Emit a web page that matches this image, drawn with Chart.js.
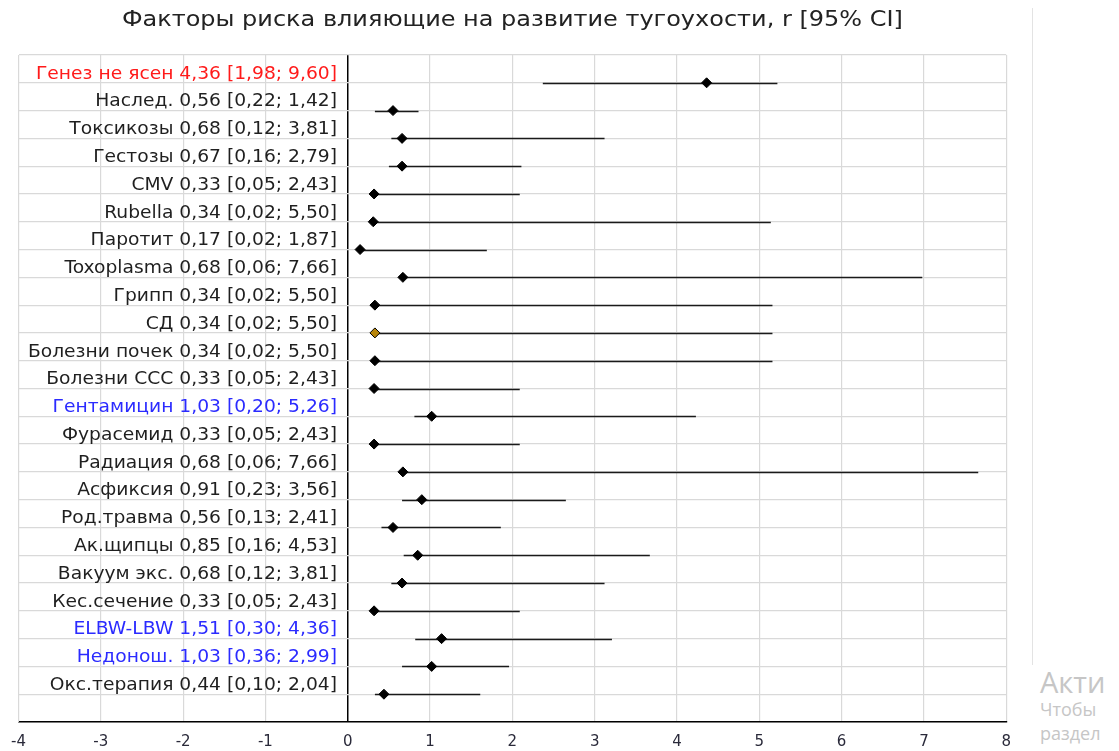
<!DOCTYPE html>
<html>
<head>
<meta charset="utf-8">
<script src="https://cdn.jsdelivr.net/npm/chart.js@4.4.0/dist/chart.umd.min.js"></script>
<style>
  body { margin: 0; background: #fff; overflow: hidden; }
  #wrap { position: absolute; left: 0; top: 0; width: 1022px; height: 751px; }
  #sep { position: absolute; left: 1032px; top: 8px; width: 1px; height: 657px; background: #e3e3e3; }
  .wm { position: absolute; left: 1040px; color: #c6c6c6; font-family: "Open Sans", sans-serif; white-space: nowrap; line-height: 1; }
</style>
</head>
<body>
<div id="wrap"><canvas id="chart" width="1022" height="751"></canvas></div>
<div id="sep"></div>
<div class="wm" style="top:667px;font-size:29px;">Акти</div>
<div class="wm" style="top:700px;font-size:18px;">Чтобы</div>
<div class="wm" style="top:724px;font-size:18px;">раздел</div>
<script>
// Factor names, top to bottom
const categories = ['Генез не ясен', 'Наслед.', 'Токсикозы', 'Гестозы', 'CMV', 'Rubella', 'Паротит',
    'Toxoplasma', 'Грипп', 'СД', 'Болезни почек', 'Болезни ССС', 'Гентамицин', 'Фурасемид',
    'Радиация', 'Асфиксия', 'Род.травма', 'Ак.щипцы', 'Вакуум экс.', 'Кес.сечение',
    'ELBW-LBW', 'Недонош.', 'Окс.терапия'];

// r [95% CI] as written in the labels
const ciText = ['4,36 [1,98; 9,60]', '0,56 [0,22; 1,42]', '0,68 [0,12; 3,81]', '0,67 [0,16; 2,79]',
    '0,33 [0,05; 2,43]', '0,34 [0,02; 5,50]', '0,17 [0,02; 1,87]', '0,68 [0,06; 7,66]',
    '0,34 [0,02; 5,50]', '0,34 [0,02; 5,50]', '0,34 [0,02; 5,50]', '0,33 [0,05; 2,43]',
    '1,03 [0,20; 5,26]', '0,33 [0,05; 2,43]', '0,68 [0,06; 7,66]', '0,91 [0,23; 3,56]',
    '0,56 [0,13; 2,41]', '0,85 [0,16; 4,53]', '0,68 [0,12; 3,81]', '0,33 [0,05; 2,43]',
    '1,51 [0,30; 4,36]', '1,03 [0,36; 2,99]', '0,44 [0,10; 2,04]'];

// Plotted marks
const estimate = [4.36, 0.55, 0.66, 0.66, 0.32, 0.31, 0.15, 0.67, 0.33, 0.33, 0.33, 0.32,
    1.02, 0.32, 0.67, 0.90, 0.55, 0.85, 0.66, 0.32, 1.14, 1.02, 0.44];
const lower = [2.37, 0.33, 0.53, 0.50, 0.30, 0.30, 0.13, 0.65, 0.31, 0.31, 0.31, 0.30,
    0.81, 0.30, 0.65, 0.66, 0.41, 0.68, 0.53, 0.30, 0.82, 0.66, 0.33];
const upper = [5.22, 0.86, 3.12, 2.11, 2.09, 5.14, 1.69, 6.98, 5.16, 5.16, 5.16, 2.09,
    4.23, 2.09, 7.66, 2.65, 1.86, 3.67, 3.12, 2.09, 3.21, 1.96, 1.61];

const xTicks = [-4, -3, -2, -1, 0, 1, 2, 3, 4, 5, 6, 7, 8];
const chartTitle = 'Факторы риска влияющие на развитие тугоухости, r [95% CI]';

// Label colours
const redLabels = ['Генез не ясен'];
const blueLabels = ['Гентамицин', 'ELBW-LBW', 'Недонош.'];
const oddMarker = ['СД'];

const rowOf = (i) => categories.length - i;
const points = estimate.map((v, i) => ({ x: v, y: rowOf(i) }));

// the original text is a bit stretched sideways
function stretchedText(ctx, text, x, y, sx) {
    ctx.save();
    ctx.translate(x, y);
    ctx.scale(sx, 1);
    ctx.fillText(text, 0, 0);
    ctx.restore();
}

// Horizontal CI lines
const errorBars = {
    id: 'errorBars',
    beforeDatasetsDraw(chart) {
        const { ctx, scales: { x, y } } = chart;
        ctx.save();
        ctx.strokeStyle = '#1a1a1a';
        ctx.lineWidth = 1.5;
        lower.forEach((lo, i) => {
            const py = Math.round(y.getPixelForValue(rowOf(i))) + 0.5;
            ctx.beginPath();
            ctx.moveTo(x.getPixelForValue(lo), py);
            ctx.lineTo(x.getPixelForValue(upper[i]), py);
            ctx.stroke();
        });
        ctx.restore();
    }
};

// Text labels in the left (negative) part of the plot + title
const rowLabels = {
    id: 'rowLabels',
    afterDatasetsDraw(chart) {
        const { ctx, chartArea, scales: { x, y } } = chart;
        ctx.save();
        ctx.font = '17px "DejaVu Sans"';
        ctx.textAlign = 'right';
        ctx.textBaseline = 'middle';
        categories.forEach((name, i) => {
            let color = '#1f1f1f';
            if (redLabels.includes(name)) color = '#ff1a1a';
            if (blueLabels.includes(name)) color = '#2b2bff';
            ctx.fillStyle = color;
            stretchedText(ctx, name + ' ' + ciText[i], x.getPixelForValue(-0.13), y.getPixelForValue(rowOf(i) + 0.31), 1.1);
        });
        ctx.font = '22px "DejaVu Sans"';
        ctx.textAlign = 'center';
        ctx.fillStyle = '#222';
        stretchedText(ctx, chartTitle, (chartArea.left + chartArea.right) / 2, 20, 1.09);
        ctx.restore();
    }
};

new Chart(document.getElementById('chart'), {
    type: 'scatter',
    data: {
        datasets: [{
            data: points,
            pointStyle: 'rectRot',
            pointRadius: 5,
            pointBorderWidth: 1,
            pointBorderColor: '#000',
            pointBackgroundColor: categories.map(c => oddMarker.includes(c) ? '#b8860b' : '#000'),
        }]
    },
    options: {
        responsive: false,
        devicePixelRatio: 1,
        animation: false,
        layout: { padding: { top: 55, left: 0, right: 15, bottom: 0 } },
        plugins: {
            legend: { display: false },
            tooltip: { enabled: false },
            title: { display: false }
        },
        scales: {
            x: {
                type: 'linear',
                min: -4,
                max: 8,
                afterBuildTicks: (scale) => { scale.ticks = xTicks.map(v => ({ value: v })); },
                afterFit: (scale) => { scale.height = 29; },
                ticks: { color: '#2a2a3a', font: { family: '"DejaVu Sans"', size: 15 }, padding: 11 },
                grid: {
                    color: (c) => c.tick && c.tick.value === 0 ? '#000' : '#d9d9d9',
                    lineWidth: (c) => c.tick && c.tick.value === 0 ? 1.5 : 1.2,
                    drawTicks: false
                },
                border: { color: '#000', width: 1.5 }
            },
            y: {
                type: 'linear',
                min: 0,
                max: categories.length + 1,
                ticks: { display: false, stepSize: 1 },
                grid: { color: '#d9d9d9', lineWidth: 1.2, drawTicks: false },
                border: { color: '#d9d9d9' }
            }
        }
    },
    plugins: [errorBars, rowLabels]
});
</script>
</body>
</html>
